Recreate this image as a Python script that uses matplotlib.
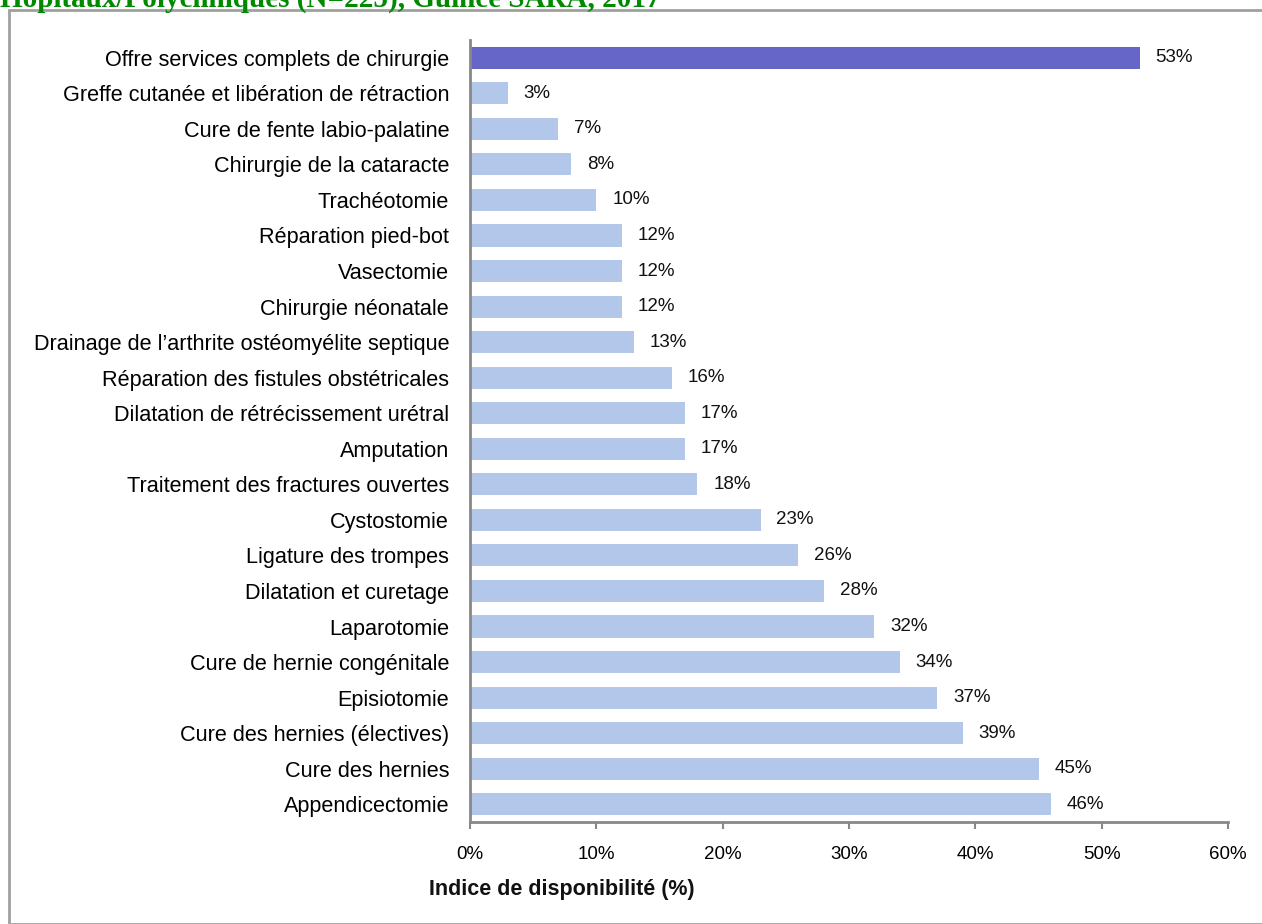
import matplotlib
matplotlib.use("Agg")
import matplotlib.pyplot as plt
from matplotlib.patches import Rectangle

# Surgical services and their availability index (%), top to bottom
services = [
    "Offre services complets de chirurgie",
    "Greffe cutanée et libération de rétraction",
    "Cure de fente labio-palatine",
    "Chirurgie de la cataracte",
    "Trachéotomie",
    "Réparation pied-bot",
    "Vasectomie",
    "Chirurgie néonatale",
    "Drainage de l\u2019arthrite ostéomyélite septique",
    "Réparation des fistules obstétricales",
    "Dilatation de rétrécissement urétral",
    "Amputation",
    "Traitement des fractures ouvertes",
    "Cystostomie",
    "Ligature des trompes",
    "Dilatation et curetage",
    "Laparotomie",
    "Cure de hernie congénitale",
    "Episiotomie",
    "Cure des hernies (électives)",
    "Cure des hernies",
    "Appendicectomie",
]
values = [53, 3, 7, 8, 10, 12, 12, 12, 13, 16, 17, 17, 18, 23, 26, 28, 32, 34, 37, 39, 45, 46]
xticks = [0, 10, 20, 30, 40, 50, 60]
xtick_labels = ["0%", "10%", "20%", "30%", "40%", "50%", "60%"]

title = "Hopitaux/Polycliniques (N=225), Guinée SARA, 2017"
xlabel = "Indice de disponibilité (%)"

plt.rcParams["font.family"] = ["Liberation Sans", "DejaVu Sans"]

fig = plt.figure(figsize=(12.62, 9.24), dpi=100)
W, H = 1262, 924

# outer frame
fig.patches.append(Rectangle((9 / W, 0), 1.2, 1 - 10 / H, transform=fig.transFigure,
                             fill=False, edgecolor="#a0a0a0", linewidth=2))

fig.text(0 / W, 1 - 7 / H, title, family="Liberation Serif", fontweight="bold",
         color="#008a00", fontsize=21, ha="left", va="baseline")

ax = fig.add_axes([470 / W, 1 - 822 / H, (1228 - 470) / W, (822 - 40) / H])

n = len(services)
ypos = [n - 1 - i for i in range(n)]
colors = ["#6666c8"] + ["#b3c7ea"] * (n - 1)
ax.barh(ypos, values, height=0.62, color=colors, edgecolor="none")

for y, v in zip(ypos, values):
    ax.text(v + 1.25, y, f"{v}%", va="center", ha="left", fontsize=13.5, color="#111111")

ax.set_xlim(0, 60)
ax.set_ylim(-0.5, n - 0.5)
ax.set_yticks(ypos)
ax.set_yticklabels(services, fontsize=15.6)
ax.set_xticks(xticks)
ax.set_xticklabels(xtick_labels, fontsize=13.5)
ax.tick_params(axis="y", length=0, pad=15)
ax.tick_params(axis="x", length=5, width=1.5, color="#888888", pad=12)

for side in ("top", "right"):
    ax.spines[side].set_visible(False)
for side in ("left", "bottom"):
    ax.spines[side].set_color("#888888")
    ax.spines[side].set_linewidth(2)

fig.text(562 / W, 1 - 890 / H, xlabel, fontweight="bold", fontsize=15.5,
         ha="center", va="center", color="#111111")

fig.savefig("out.png", dpi=100, facecolor="white")
